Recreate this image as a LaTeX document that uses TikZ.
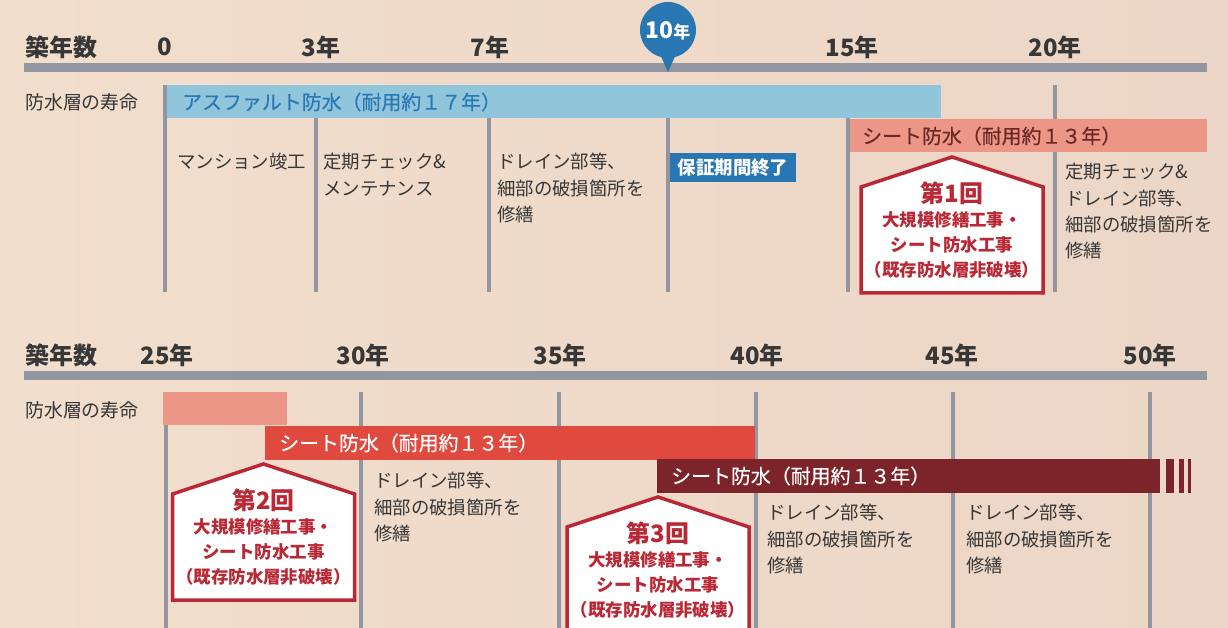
\documentclass[tikz,border=0pt]{standalone}
\usepackage{fontspec}
\newfontfamily\jp{Noto Sans CJK JP}
\newfontfamily\jpm{Noto Sans CJK JP}[FakeBold=0.4]
\definecolor{bgL}{RGB}{242,222,204}
\definecolor{bgR}{RGB}{236,214,199}
\definecolor{ink}{RGB}{55,55,55}
\definecolor{axisgray}{RGB}{146,150,160}
\definecolor{lblue}{RGB}{145,197,220}
\definecolor{tblue}{RGB}{42,120,180}
\definecolor{mblue}{RGB}{40,118,178}
\definecolor{salmon}{RGB}{235,150,135}
\definecolor{stext}{RGB}{110,40,35}
\definecolor{rbar}{RGB}{224,74,62}
\definecolor{dbar}{RGB}{125,36,42}
\definecolor{hred}{RGB}{185,40,52}
\newcommand\drawhouse[3]{%
  \draw[house] (#1-91,#2+136) -- (#1-91,#2+30) -- (#1,#2) -- (#1+91,#2+30) -- (#1+91,#2+136) -- cycle;
  \node[htitle] (h#3t) at (#1,#2+36) {第#3回};
  \node[hline] (h#3a) at (#1,#2+63) {大規模修繕工事・};
  \node[hline] (h#3b) at (#1,#2+88) {シート防水工事};
  \node[hline] (h#3c) at (#1,#2+113) {（既存防水層非破壊）};
}
\tikzset{
  yr/.style={font=\jp\bfseries\fontsize{24}{24}\selectfont, text=ink, inner sep=0},
  lbl/.style={font=\jp\fontsize{19}{19}\selectfont, text=ink, inner sep=0, anchor=west},
  body/.style={font=\jp\fontsize{18.5}{26.5}\selectfont, text=ink, align=left, inner sep=0, anchor=north west},
  axisline/.style={draw=axisgray, line width=9bp},
  tick/.style={draw=axisgray, line width=3.5bp},
  bartext/.style={font=\jpm\fontsize{20}{20}\selectfont, inner sep=0, anchor=west},
  house/.style={draw=hred, fill=white, line width=3.5bp, line join=miter},
  htitle/.style={font=\jp\bfseries\fontsize{24}{24}\selectfont, text=hred, inner sep=0},
  hline/.style={font=\jp\bfseries\fontsize{17.5}{17.5}\selectfont, text=hred, inner sep=0},
}
\begin{document}
\begin{tikzpicture}[x=1bp,y=-1bp]
\useasboundingbox (0,0) rectangle (1228,628);
\clip (0,0) rectangle (1228,628);
\shade[left color=bgL, right color=bgR] (0,0) rectangle (1228,628);

% ---------- top section ----------
\node[yr, anchor=west] (hdr1) at (25,47) {築年数};
\node[yr] (y0) at (165,47) {0};
\node[yr] (y3) at (321,47) {3年};
\node[yr] (y7) at (490,47) {7年};
\node[yr] (y15) at (852,47) {15年};
\node[yr] (y20) at (1055,47) {20年};
\draw[axisline] (24,68) -- (1207,68);
% 10 year marker
\fill[mblue] (668,30) circle (28);
\fill[mblue] (659,52) -- (668,72) -- (677,52) -- cycle;
\node[inner sep=0, text=white] (y10) at (668,31) {\jp\bfseries\fontsize{23}{23}\selectfont 10\fontsize{17}{17}\selectfont 年};

\node[lbl] (life1) at (25,102) {防水層の寿命};
% ticks
\draw[tick] (165,85) -- (165,292);
\foreach \x in {316,489,668,848} \draw[tick] (\x,118) -- (\x,292);
\draw[tick] (1055,85) -- (1055,292);
% bars
\fill[lblue] (167,85) rectangle (941,118);
\node[bartext, text=tblue] (asph) at (182,102) {アスファルト防水（耐用約１７年）};
\fill[salmon] (850,119) rectangle (1207,152);
\node[bartext, text=stext] (sheet1) at (862,136) {シート防水（耐用約１３年）};
% texts
\node[body] (t1) at (177,153) {マンション竣工};
\node[body] (t2) at (323,153) {定期チェック\&\\メンテナンス};
\node[body] (t3) at (497,153) {ドレイン部等、\\細部の破損箇所を\\修繕};
\fill[mblue] (670,153) rectangle (796,182);
\node[inner sep=0, text=white, font=\jp\bfseries\fontsize{18.5}{18.5}\selectfont] (warr) at (733,167.5) {保証期間終了};
\node[body] (t4) at (1065,163) {定期チェック\&\\ドレイン部等、\\細部の破損箇所を\\修繕};
\drawhouse{952}{157}{1}

% ---------- bottom section ----------
\node[yr, anchor=west] (hdr2) at (25,355) {築年数};
\node[yr] (y25) at (167,355) {25年};
\node[yr] (y30) at (363,355) {30年};
\node[yr] (y35) at (560,355) {35年};
\node[yr] (y40) at (757,355) {40年};
\node[yr] (y45) at (952,355) {45年};
\node[yr] (y50) at (1150,355) {50年};
\draw[axisline] (24,375) -- (1207,375);
\node[lbl] (life2) at (25,410) {防水層の寿命};
\foreach \x in {166,361,559,756,953,1150} \draw[tick] (\x,392) -- (\x,628);
\fill[salmon] (163,392) rectangle (287,425);
\fill[rbar] (265,426) rectangle (755,460);
\node[bartext, text=white] (sheet2) at (279,443) {シート防水（耐用約１３年）};
\fill[dbar] (657,459) rectangle (1160,493);
\fill[dbar] (1166,459) rectangle (1174,493);
\fill[dbar] (1179,459) rectangle (1184,493);
\fill[dbar] (1188,459) rectangle (1191,493);
\node[bartext, text=white] (sheet3) at (671,476) {シート防水（耐用約１３年）};
\node[body] (t5) at (374,472) {ドレイン部等、\\細部の破損箇所を\\修繕};
\node[body] (t6) at (767,504) {ドレイン部等、\\細部の破損箇所を\\修繕};
\node[body] (t7) at (966,504) {ドレイン部等、\\細部の破損箇所を\\修繕};
\drawhouse{263.5}{464}{2}
\drawhouse{658}{497}{3}
\end{tikzpicture}
\end{document}
